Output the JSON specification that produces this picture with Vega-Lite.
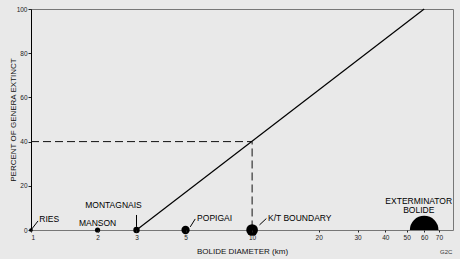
{
  "$schema": "https://vega.github.io/schema/vega-lite/v6.json",
  "width": 422,
  "height": 221,
  "autosize": "none",
  "padding": {"left": 31, "top": 9, "right": 7, "bottom": 29},
  "background": "#e9e9e9",
  "config": {
    "view": {"stroke": "#777", "strokeWidth": 1},
    "font": "Liberation Sans",
    "axis": {"grid": false, "labelFont": "Liberation Sans", "titleFont": "Liberation Sans", "labelColor": "#222", "titleColor": "#111", "tickColor": "#222", "labelFontSize": 6.5, "titleFontSize": 8, "titleFontWeight": "normal"}
  },
  "datasets": {
    "curve": [{"d": 3, "p": 0}, {"d": 60, "p": 100}],
    "dash": [{"d": 1, "p": 40, "o": 1}, {"d": 10, "p": 40, "o": 2}, {"d": 10, "p": 0, "o": 3}],
    "bolides": [
      {"name": "RIES", "d": 1},
      {"name": "MANSON", "d": 2},
      {"name": "MONTAGNAIS", "d": 3},
      {"name": "POPIGAI", "d": 5},
      {"name": "K/T BOUNDARY", "d": 10},
      {"name": "EXTERMINATOR BOLIDE", "d": 60}
    ],
    "leaders": [
      {"x1": 1, "y1": 0, "x2": 1.076, "y2": 4.1},
      {"x1": 3, "y1": 1.4, "x2": 3, "y2": 6.8},
      {"x1": 5.25, "y1": 1.4, "x2": 5.53, "y2": 5.0},
      {"x1": 10.8, "y1": 2.3, "x2": 11.6, "y2": 5.2}
    ],
    "labelsLeft": [
      {"t": "RIES", "x": 1.09, "y": 5},
      {"t": "POPIGAI", "x": 5.64, "y": 5.4},
      {"t": "K/T BOUNDARY", "x": 11.8, "y": 5.4}
    ],
    "labelsCenter": [
      {"t": ["MANSON"], "x": 2.0, "y": 3.2},
      {"t": ["MONTAGNAIS"], "x": 2.36, "y": 11.3},
      {"t": ["EXTERMINATOR", "BOLIDE"], "x": 56.7, "y": 13.1}
    ],
    "note": [{"t": "G2C", "x": 75.5, "y": -10}]
  },
  "layer": [
    {
      "data": {"name": "dash"},
      "mark": {"type": "line", "stroke": "#111", "strokeWidth": 1, "strokeDash": [8, 4]},
      "encoding": {
        "x": {"field": "d", "type": "quantitative", "scale": {"type": "log", "domain": [1, 81], "nice": false},
          "axis": {"values": [1, 2, 3, 5, 10, 20, 30, 40, 50, 60, 70], "title": "BOLIDE DIAMETER (km)", "tickSize": 2, "labelPadding": 2, "domain": false, "titleY": 21, "titleBaseline": "middle", "zindex": 1}},
        "y": {"field": "p", "type": "quantitative", "scale": {"domain": [0, 100], "nice": false},
          "axis": {"values": [0, 20, 40, 60, 80, 100], "title": "PERCENT OF GENERA EXTINCT", "tickSize": 3, "labelPadding": 1, "domainColor": "#000", "titleX": -18, "titleY": 110.5, "titleBaseline": "middle"}},
        "order": {"field": "o"}
      }
    },
    {
      "data": {"name": "curve"},
      "mark": {"type": "line", "stroke": "#000", "strokeWidth": 1.2},
      "encoding": {"x": {"field": "d", "type": "quantitative"}, "y": {"field": "p", "type": "quantitative"}}
    },
    {
      "data": {"name": "leaders"},
      "mark": {"type": "rule", "stroke": "#000", "strokeWidth": 1},
      "encoding": {
        "x": {"field": "x1", "type": "quantitative"}, "y": {"field": "y1", "type": "quantitative"},
        "x2": {"field": "x2"}, "y2": {"field": "y2"}
      }
    },
    {
      "data": {"name": "bolides"},
      "transform": [{"filter": "datum.d < 50"}],
      "mark": {"type": "circle", "color": "#000", "opacity": 1},
      "encoding": {
        "x": {"field": "d", "type": "quantitative"},
        "y": {"datum": 0, "type": "quantitative"},
        "size": {"field": "d", "type": "quantitative", "scale": {"type": "linear", "domain": [0, 60], "range": [0, 820]}, "legend": null}
      }
    },
    {
      "data": {"name": "bolides"},
      "transform": [{"filter": "datum.d >= 50"}],
      "mark": {"type": "circle", "color": "#000", "opacity": 1, "clip": true},
      "encoding": {
        "x": {"field": "d", "type": "quantitative"},
        "y": {"datum": 0, "type": "quantitative"},
        "size": {"field": "d", "type": "quantitative", "legend": null}
      }
    },
    {
      "data": {"name": "labelsLeft"},
      "mark": {"type": "text", "fontSize": 8.5, "color": "#000", "baseline": "middle", "align": "left"},
      "encoding": {
        "x": {"field": "x", "type": "quantitative"}, "y": {"field": "y", "type": "quantitative"},
        "text": {"field": "t"}
      }
    },
    {
      "data": {"name": "labelsCenter"},
      "mark": {"type": "text", "fontSize": 8.5, "lineHeight": 8.5, "color": "#000", "baseline": "middle", "align": "center"},
      "encoding": {
        "x": {"field": "x", "type": "quantitative"}, "y": {"field": "y", "type": "quantitative"},
        "text": {"field": "t"}
      }
    },
    {
      "data": {"name": "note"},
      "mark": {"type": "text", "fontSize": 6, "color": "#333", "baseline": "middle", "align": "center"},
      "encoding": {
        "x": {"field": "x", "type": "quantitative"}, "y": {"field": "y", "type": "quantitative"},
        "text": {"field": "t"}
      }
    }
  ]
}
